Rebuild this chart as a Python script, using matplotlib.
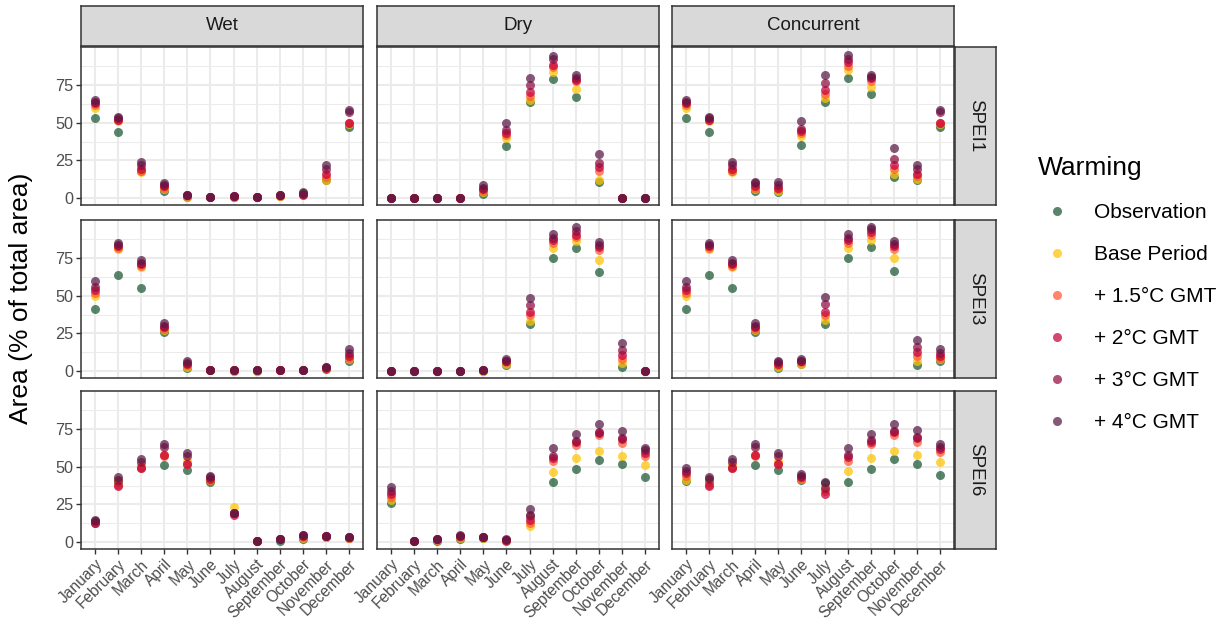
import numpy as np
import matplotlib
matplotlib.use("Agg")
import matplotlib.pyplot as plt
from matplotlib.lines import Line2D

plt.rcParams['font.family'] = ['Liberation Sans', 'DejaVu Sans']

months = ["January", "February", "March", "April", "May", "June", "July",
          "August", "September", "October", "November", "December"]
drought_types = ["Wet", "Dry", "Concurrent"]
spei_scales = ["SPEI1", "SPEI3", "SPEI6"]
warming_levels = ["Observation", "Base Period", "+ 1.5°C GMT", "+ 2°C GMT",
                  "+ 3°C GMT", "+ 4°C GMT"]
warming_colors = ["#1A5632", "#FFC300", "#FF5733", "#C70039", "#900C3F", "#581845"]

# rows: Observation, Base Period, +1.5, +2, +3, +4 ; columns: Jan..Dec
wet_spei1 = [
    [53, 44, 18, 5, 0.5, 0.5, 0.5, 0.5, 1.5, 4, 12, 47],
    [60, 51, 17, 6, 1, 0.5, 1, 0.5, 1.5, 3, 12, 49],
    [62, 52, 18, 7, 1.5, 0.7, 1, 0.7, 1.7, 2.5, 14, 50],
    [63, 52, 19, 8, 1.8, 0.8, 1.2, 0.8, 1.8, 2, 16, 50],
    [64, 53, 22, 9, 2, 0.8, 1.3, 1, 2, 3, 19, 57],
    [65, 54, 24, 10, 2.2, 1, 1.5, 1, 2, 3.5, 22, 58.5],
]
dry_spei1 = [
    [0.2, 0.2, 0.2, 0.2, 3, 34.5, 63.5, 79, 67, 10.5, 0.2, 0.2],
    [0.2, 0.2, 0.2, 0.2, 4, 40, 65, 84, 72.5, 12, 0.2, 0.2],
    [0.2, 0.2, 0.2, 0.2, 5, 42, 68, 87, 77.5, 18, 0.2, 0.2],
    [0.2, 0.2, 0.2, 0.2, 6, 43.5, 70.5, 88.5, 78.5, 20.5, 0.2, 0.2],
    [0.2, 0.2, 0.2, 0.2, 7, 45, 75, 92, 80, 23, 0.2, 0.2],
    [0.2, 0.2, 0.2, 0.2, 8.5, 50, 80, 94.5, 81.5, 29.5, 0.2, 0.2],
]
conc_spei1 = [
    [53, 44, 18, 5, 4, 35, 64, 80, 69, 14, 12, 47],
    [60, 51, 17, 6, 5, 41, 66.5, 85, 74, 16, 13, 49],
    [62, 52, 18, 7, 6, 43, 69, 87.5, 78, 19, 15, 50],
    [63, 52, 19, 8, 7, 44.5, 71.5, 90, 79.5, 22, 16, 50],
    [64, 53, 22, 10, 9, 46, 76.5, 92.5, 80.5, 26, 19, 57],
    [65, 54, 24, 11, 10.5, 51, 81.5, 94.7, 82, 33, 22, 58.5],
]
wet_spei3 = [
    [41, 64, 55, 26, 2, 0.5, 0.3, 0.3, 0.5, 0.5, 1.5, 7],
    [50, 81, 69, 27, 3, 0.5, 0.4, 0.4, 0.5, 0.6, 1.8, 8],
    [52, 82, 70, 28, 4, 0.6, 0.5, 0.5, 0.6, 0.7, 2, 9],
    [54, 83, 71, 29, 4.5, 0.7, 0.5, 0.5, 0.7, 0.8, 2.2, 10],
    [56, 84, 72, 30, 5.5, 0.8, 0.6, 0.6, 0.8, 0.9, 2.5, 12],
    [60, 85, 74, 32, 7, 0.9, 0.7, 0.6, 0.8, 1, 2.8, 15],
]
dry_spei3 = [
    [0.2, 0.2, 0.2, 0.2, 0.3, 4, 31, 75, 82, 66, 3, 0.2],
    [0.2, 0.2, 0.2, 0.2, 0.4, 5, 33.5, 82, 86.5, 74, 5.5, 0.2],
    [0.2, 0.2, 0.2, 0.2, 0.5, 6, 37, 85, 89, 80.5, 8, 0.2],
    [0.2, 0.2, 0.2, 0.2, 0.5, 6.5, 39, 87, 90.5, 82.5, 10.5, 0.2],
    [0.2, 0.2, 0.2, 0.2, 0.6, 7, 44, 88.5, 93, 84, 14, 0.2],
    [0.2, 0.2, 0.2, 0.2, 0.7, 8, 48.5, 91, 95.5, 86, 18.5, 0.2],
]
conc_spei3 = [
    [41, 64, 55, 26, 2, 4.5, 31, 75, 82.5, 66.5, 4, 7],
    [50, 81, 69, 27, 3, 5, 34, 82, 87, 75, 7, 8],
    [52, 82, 70, 28, 4, 6, 37, 85, 90, 81, 10, 9],
    [54, 83, 71, 29, 5, 6.5, 39.5, 87, 92, 83, 12.5, 10],
    [56, 84, 72, 30, 6, 7, 44.5, 88.5, 94, 84.5, 16, 12],
    [60, 85, 74, 32, 7, 8, 49, 91, 95.5, 86.5, 20.5, 15],
]
wet_spei6 = [
    [13, 40, 50, 51, 48, 40, 19, 0.5, 1, 2, 3.5, 3],
    [14, 41, 51, 58, 54, 41, 23, 0.6, 2, 3, 3.7, 3],
    [13.5, 38, 49, 57, 52, 41, 19, 0.7, 2, 3.5, 3.8, 3],
    [12.5, 37, 49, 58, 51.5, 42, 18, 0.8, 2, 4, 4, 3.2],
    [14, 41, 53, 63, 57, 43, 19, 0.9, 2.2, 4.5, 4, 3.3],
    [15, 43, 55, 65, 59, 44, 19, 1, 2.3, 5, 4, 3.5],
]
dry_spei6 = [
    [26, 0.5, 1, 2, 3, 1, 17, 40, 48.5, 54.5, 52, 43],
    [28, 0.6, 1.5, 3, 3, 1.2, 11, 46.5, 55.5, 60.5, 57, 51],
    [30, 0.7, 1.7, 3.5, 3.2, 1.4, 13, 54, 64.5, 71, 66, 57],
    [32, 0.8, 1.8, 4, 3.3, 1.5, 15, 56, 66.5, 72.5, 68.5, 59],
    [34, 0.9, 2, 4.2, 3.4, 1.6, 18, 57, 67, 73, 69, 61],
    [36.5, 1, 2.2, 4.5, 3.5, 1.8, 22, 62.5, 71.5, 78.5, 74, 62.5],
]
conc_spei6 = [
    [40.5, 40, 50, 51, 48, 41, 39, 40, 48.5, 55, 52, 44.5],
    [41, 41, 51, 58, 54, 42, 35, 47, 56, 60.5, 57.5, 53],
    [44, 38, 49, 57, 52, 42, 34, 54, 65, 71, 66.5, 60],
    [46, 37, 49, 58, 51.5, 43, 32, 56.5, 66.5, 73, 69, 61.5],
    [47, 42, 53, 63, 57, 44, 36, 57.5, 67.5, 73.5, 69.5, 63],
    [49, 43, 55, 65, 59, 45, 40, 62.5, 71.5, 78.5, 74.5, 65],
]

panels = [[wet_spei1, dry_spei1, conc_spei1],
          [wet_spei3, dry_spei3, conc_spei3],
          [wet_spei6, dry_spei6, conc_spei6]]

W, H = 1226, 638
fig = plt.figure(figsize=(W / 100, H / 100), dpi=100)


def px_box(x0, y0, w, h):
    return [x0 / W, 1 - (y0 + h) / H, w / W, h / H]


col_x = [81, 377, 672]
row_y = [47, 220, 391]
pw, ph = 282, 158

# shared y scale with ggplot-style 5% expansion
allv = np.array(panels, dtype=float)
lo, hi = allv.min(), allv.max()
pad = 0.05 * (hi - lo)
ylim = (lo - pad, hi + pad)

x = np.arange(1, 13)
grey20 = "#333333"
for r in range(3):
    for c in range(3):
        ax = fig.add_axes(px_box(col_x[c], row_y[r], pw, ph))
        data = panels[r][c]
        for k in range(len(warming_levels)):
            ax.scatter(x, data[k], s=42, color=warming_colors[k], alpha=0.72,
                       linewidths=0, zorder=3)
        ax.set_xlim(0.4, 12.6)
        ax.set_ylim(*ylim)
        ax.set_xticks(x)
        ax.set_yticks([0, 25, 50, 75])
        ax.set_yticks([12.5, 37.5, 62.5, 87.5], minor=True)
        ax.grid(True, which='major', color="#EBEBEB", lw=1.5, zorder=0)
        ax.grid(True, which='minor', axis='y', color="#EBEBEB", lw=0.75, zorder=0)
        ax.set_axisbelow(True)
        for s in ax.spines.values():
            s.set_color(grey20)
            s.set_linewidth(1.1)
        ax.tick_params(which='minor', length=0)
        ax.tick_params(which='major', color=grey20, width=1.0, length=3.5,
                       labelsize=11.7, labelcolor="#4D4D4D", pad=2)
        if c == 0:
            ax.set_yticklabels(["0", "25", "50", "75"])
        else:
            ax.tick_params(axis='y', length=0, labelleft=False)
        if r == 2:
            ax.set_xticklabels(months, rotation=45, ha='right', va='top',
                               rotation_mode='anchor', fontsize=11.2)
        else:
            ax.tick_params(axis='x', length=0, labelbottom=False)

# column strips
for c, name in enumerate(drought_types):
    sax = fig.add_axes(px_box(col_x[c], 6, pw, 40))
    sax.set_xticks([]); sax.set_yticks([])
    sax.set_facecolor("#D9D9D9")
    for s in sax.spines.values():
        s.set_color(grey20); s.set_linewidth(1.1)
    sax.text(0.5, 0.5, name, ha='center', va='center', fontsize=13.5,
             color="#1A1A1A", transform=sax.transAxes)

# row strips
for r, name in enumerate(spei_scales):
    sax = fig.add_axes(px_box(955, row_y[r], 41, ph))
    sax.set_xticks([]); sax.set_yticks([])
    sax.set_facecolor("#D9D9D9")
    for s in sax.spines.values():
        s.set_color(grey20); s.set_linewidth(1.1)
    sax.text(0.5, 0.5, name, ha='center', va='center', fontsize=13.5,
             rotation=-90, color="#1A1A1A", transform=sax.transAxes)

fig.text(21 / W, 1 - 298 / H, "Area (% of total area)", rotation=90,
         ha='center', va='center', fontsize=19)

handles = [Line2D([], [], ls='none', marker='o', markersize=6.5,
                  markerfacecolor=col, markeredgewidth=0, alpha=0.72)
           for col in warming_colors]
fig.legend(handles, warming_levels, title="Warming", loc='upper left',
           bbox_to_anchor=(1030 / W, 1 - 148 / H), frameon=False,
           fontsize=15, title_fontsize=19, labelspacing=1.1,
           handlelength=1.83, handletextpad=0.82, alignment='left',
           borderaxespad=0)

fig.savefig("out.png", dpi=100)
